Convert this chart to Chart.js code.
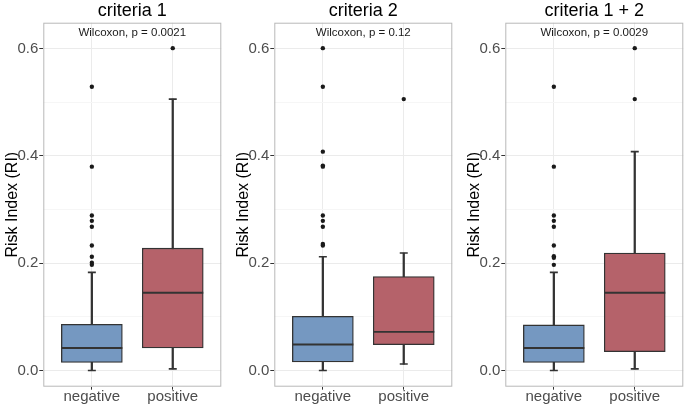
<!DOCTYPE html>
<html>
<head>
<meta charset="utf-8">
<script src="https://cdn.jsdelivr.net/npm/chart.js@4.4.1/dist/chart.umd.min.js"></script>
<style>
  body { margin: 0; background: #fff; width: 685px; height: 407px; overflow: hidden; position: relative; }
  canvas { position: absolute; top: 0; }
</style>
</head>
<body>
<canvas id="c1" width="223" height="407" style="left:0px"></canvas>
<canvas id="c2" width="223" height="407" style="left:231px"></canvas>
<canvas id="c3" width="223" height="407" style="left:462px"></canvas>
<script>
const groups = ['negative', 'positive'];
const panelTitles = ['criteria 1', 'criteria 2', 'criteria 1 + 2'];
const pLabels = ['Wilcoxon, p = 0.0021', 'Wilcoxon, p = 0.12', 'Wilcoxon, p = 0.0029'];
const yTicks = [0, 0.1, 0.2, 0.3, 0.4, 0.5, 0.6];
const boxColors = ['#7598c1', '#b5626a'];

// criteria 1
const c1Low = [0, 0.003];
const c1Q1 = [0.015, 0.042];
const c1Median = [0.042, 0.145];
const c1Q3 = [0.086, 0.228];
const c1High = [0.183, 0.506];
const c1Outliers = [[0.529, 0.380, 0.289, 0.279, 0.268, 0.233, 0.212, 0.201, 0.197], [0.601]];

// criteria 2
const c2Low = [0, 0.012];
const c2Q1 = [0.016, 0.048];
const c2Median = [0.0485, 0.072];
const c2Q3 = [0.101, 0.175];
const c2High = [0.212, 0.219];
const c2Outliers = [[0.601, 0.529, 0.408, 0.382, 0.380, 0.289, 0.279, 0.268, 0.236, 0.233], [0.506]];

// criteria 1 + 2
const c3Low = [0, 0.003];
const c3Q1 = [0.015, 0.035];
const c3Median = [0.042, 0.145];
const c3Q3 = [0.085, 0.219];
const c3High = [0.183, 0.408];
const c3Outliers = [[0.529, 0.380, 0.289, 0.279, 0.268, 0.233, 0.213, 0.210, 0.197], [0.601, 0.506]];

Chart.defaults.font.family = '"Liberation Sans", Arial, sans-serif';

const isMajor = v => Math.round(v * 10) % 2 === 0;

// panel border + wilcoxon label
const panelDecor = {
  id: 'panelDecor',
  afterDraw(chart, args, opts) {
    const { ctx, chartArea: a, scales } = chart;
    ctx.save();
    ctx.strokeStyle = '#b8b8b8';
    ctx.lineWidth = 1;
    ctx.strokeRect(a.left + 0.5, a.top + 0.5, a.right - a.left - 1, a.bottom - a.top - 1);
    ctx.fillStyle = '#1a1a1a';
    ctx.font = '11.5px "Liberation Sans", Arial, sans-serif';
    ctx.textAlign = 'center';
    ctx.textBaseline = 'middle';
    ctx.fillText(opts.label, scales.x.getPixelForValue(1.5), scales.y.getPixelForValue(0.63));
    ctx.restore();
  }
};

function makeChart(id, title, pLabel, low, q1, med, q3, high, outliers) {
  const pos = groups.map((g, i) => i + 1);
  new Chart(document.getElementById(id), {
    type: 'bar',
    data: {
      datasets: [
        {
          // whiskers
          data: pos.map((x, i) => ({ x: x, y: [low[i], high[i]] })),
          backgroundColor: '#333333',
          barThickness: 1.6,
          grouped: false,
          order: 4
        },
        {
          // boxes
          data: pos.map((x, i) => ({ x: x, y: [q1[i], q3[i]] })),
          backgroundColor: boxColors,
          borderColor: '#333333',
          borderWidth: 1.3,
          borderSkipped: false,
          barThickness: 61,
          grouped: false,
          order: 3
        },
        {
          // medians
          type: 'scatter',
          data: pos.map((x, i) => ({ x: x, y: med[i] })),
          pointStyle: 'line',
          pointRadius: 30.5,
          borderColor: '#333333',
          pointBorderWidth: 1.9,
          order: 2
        },
        {
          // whisker caps
          type: 'scatter',
          data: pos.flatMap((x, i) => [{ x: x, y: low[i] }, { x: x, y: high[i] }]),
          pointStyle: 'line',
          pointRadius: 4,
          borderColor: '#333333',
          pointBorderWidth: 1.6,
          order: 1
        },
        {
          // outliers
          type: 'scatter',
          data: outliers.flatMap((arr, i) => arr.map(v => ({ x: pos[i], y: v }))),
          pointRadius: 2.2,
          backgroundColor: '#1a1a1a',
          borderWidth: 0,
          order: 0
        }
      ]
    },
    options: {
      responsive: false,
      animation: false,
      events: [],
      layout: { autoPadding: false, padding: { top: 0, right: 1.7, bottom: 0, left: 0 } },
      plugins: {
        legend: { display: false },
        tooltip: { enabled: false },
        title: {
          display: true,
          fullSize: false,
          text: title,
          color: '#000',
          font: { size: 18, weight: 'normal' },
          padding: { top: 0, bottom: 1.1 }
        },
        panelDecor: { label: pLabel }
      },
      scales: {
        x: {
          type: 'linear',
          offset: false,
          min: 0.4,
          max: 2.6,
          afterBuildTicks: s => { s.ticks = pos.map(v => ({ value: v })); },
          afterFit: s => { s.height = 20.3; },
          border: { display: false },
          grid: { offset: false, color: '#ebebeb', tickColor: '#333333', tickLength: 3 },
          ticks: {
            callback: v => groups[v - 1],
            color: '#4d4d4d',
            font: { size: 15 },
            padding: -2,
            maxRotation: 0,
            autoSkip: false
          }
        },
        y: {
          min: -0.0302,
          max: 0.6484,
          afterBuildTicks: s => { s.ticks = yTicks.map(v => ({ value: v })); },
          afterFit: s => { s.width = 43.3; },
          border: { display: false },
          grid: {
            color: c => isMajor(c.tick.value) ? '#ebebeb' : '#f6f6f6',
            tickColor: c => isMajor(c.tick.value) ? '#333333' : 'rgba(0,0,0,0)',
            tickLength: 4
          },
          ticks: {
            callback: v => isMajor(v) ? v.toFixed(1) : '',
            color: '#4d4d4d',
            font: { size: 15 },
            padding: 1,
            autoSkip: false
          },
          title: {
            display: true,
            text: 'Risk Index (RI)',
            color: '#000',
            font: { size: 16 },
            padding: { top: 3, bottom: 0 }
          }
        }
      }
    },
    plugins: [panelDecor]
  });
}

makeChart('c1', panelTitles[0], pLabels[0], c1Low, c1Q1, c1Median, c1Q3, c1High, c1Outliers);
makeChart('c2', panelTitles[1], pLabels[1], c2Low, c2Q1, c2Median, c2Q3, c2High, c2Outliers);
makeChart('c3', panelTitles[2], pLabels[2], c3Low, c3Q1, c3Median, c3Q3, c3High, c3Outliers);
</script>
</body>
</html>
